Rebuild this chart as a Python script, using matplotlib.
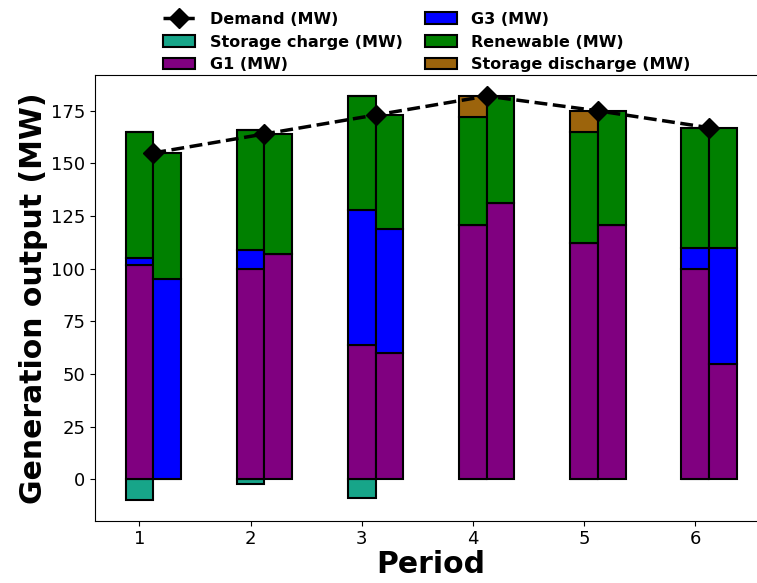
import numpy as np
import matplotlib
matplotlib.use('Agg')
import matplotlib.pyplot as plt

periods = [1, 2, 3, 4, 5, 6]
demand = [155, 164, 173, 182, 175, 167]

# left bar of each period
storage_charge = [-10, -2, -9, 0, 0, 0]
g1_left = [102, 100, 64, 121, 112, 100]
g3_left = [3, 9, 64, 0, 0, 10]
renew_left = [60, 57, 54, 51, 53, 57]
storage_discharge = [0, 0, 0, 10, 10, 0]

# right bar of each period
g1_right = [0, 107, 60, 131, 121, 55]
g3_right = [95, 0, 59, 0, 0, 55]
renew_right = [60, 57, 54, 51, 54, 57]

c_charge = '#17a589'
c_g1 = 'purple'
c_g3 = 'blue'
c_renew = 'green'
c_dis = '#9c640c'

x = np.array(periods, dtype=float)
w = 0.25
ek = dict(edgecolor='black', linewidth=1.5)

fig = plt.figure(figsize=(7.57, 5.83), dpi=100)
ax = fig.add_axes([0.1255, 0.107, 0.888, 0.764])

# left bars
b_ch = ax.bar(x, storage_charge, w, color=c_charge, label='Storage charge (MW)', **ek)
b_g1 = ax.bar(x, g1_left, w, color=c_g1, label='G1 (MW)', **ek)
bot = np.array(g1_left)
b_g3 = ax.bar(x, g3_left, w, bottom=bot, color=c_g3, label='G3 (MW)', **ek)
bot = bot + np.array(g3_left)
b_re = ax.bar(x, renew_left, w, bottom=bot, color=c_renew, label='Renewable (MW)', **ek)
bot = bot + np.array(renew_left)
b_di = ax.bar(x, storage_discharge, w, bottom=bot, color=c_dis, label='Storage discharge (MW)', **ek)

# right bars
ax.bar(x + w, g1_right, w, color=c_g1, **ek)
bot = np.array(g1_right)
ax.bar(x + w, g3_right, w, bottom=bot, color=c_g3, **ek)
bot = bot + np.array(g3_right)
ax.bar(x + w, renew_right, w, bottom=bot, color=c_renew, **ek)

ln, = ax.plot(x + w / 2, demand, color='black', linestyle='--', linewidth=2.5,
              marker='D', markersize=10, label='Demand (MW)', zorder=5)

ax.set_xlim(0.6, 6.65)
ax.set_ylim(-19.6, 191.9)
ax.set_xticks(periods)
ax.tick_params(labelsize=13)
ax.set_xlabel('Period', fontsize=21.5, fontweight='bold', labelpad=1)
ax.set_ylabel('Generation output (MW)', fontsize=21.5, fontweight='bold', labelpad=2)

handles = [ln, b_ch, b_g1, b_g3, b_re, b_di]
fig.legend(handles=handles, labels=[h.get_label() for h in handles], loc='lower center',
           bbox_to_anchor=(0.564, 0.851), ncol=2, frameon=False,
           prop={'weight': 'bold', 'size': 11.5}, handletextpad=0.9,
           columnspacing=1.4, labelspacing=0.5)

fig.savefig('out.png', dpi=100)
